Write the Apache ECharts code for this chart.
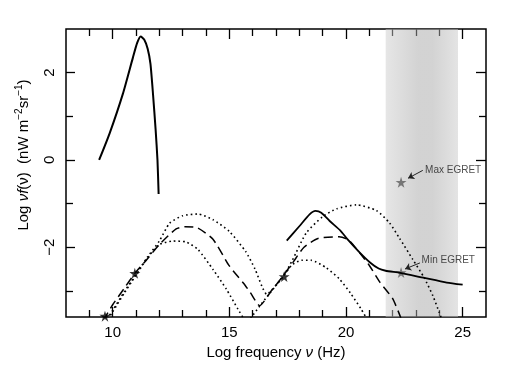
<!DOCTYPE html>
<html>
<head>
    <meta charset="utf-8">
    <title>SED</title>
    <script src="https://cdn.jsdelivr.net/npm/echarts@6/dist/echarts.min.js"></script>
    <style>
        html, body {margin:0;padding:0;background:#fff}
        #chart {width:508px;height:382px}
    </style>
</head>
<body>
<div id="chart"></div>
<script>
    // axis ticks
    var xMajor = [10, 15, 20, 25];
    var xMinor = [9, 11, 12, 13, 14, 16, 17, 18, 19, 21, 22, 23, 24];
    var yMajor = [-2, 0, 2];
    var yMinor = [-3, -1, 1];

    // curves, [log nu, log nu f(nu)]
    var cmbCurve = [[9.42,0.0],[9.87,0.61],[10.44,1.52],[10.87,2.35],[11.05,2.68],[11.2,2.83],[11.35,2.76],
        [11.5,2.55],[11.62,2.2],[11.73,1.5],[11.84,0.7],[11.92,0.0],[11.97,-0.78]];
    var upperDotted = [[9.75,-3.65],[10.0,-3.45],[10.5,-3.02],[11.0,-2.62],[11.5,-2.22],[12.0,-1.86],[12.44,-1.45],
        [13.0,-1.28],[13.65,-1.24],[14.3,-1.37],[15.0,-1.64],[15.7,-2.1],[16.1,-2.5],[16.4,-2.9],[16.6,-3.08],
        [17.0,-2.87],[17.35,-2.63],[17.7,-2.3],[18.3,-1.67],[19.0,-1.3],[19.6,-1.12],[20.45,-1.03],[21.3,-1.16],
        [21.86,-1.44],[22.3,-1.8],[22.86,-2.28],[23.35,-2.7],[23.72,-3.11],[24.0,-3.5],[24.1,-3.65]];
    var lowerDotted = [[9.8,-3.65],[10.0,-3.48],[10.5,-3.05],[11.0,-2.64],[11.5,-2.24],[12.0,-1.94],[12.58,-1.86],
        [13.15,-1.88],[13.65,-2.05],[14.3,-2.51],[14.87,-2.96],[15.37,-3.42],[15.6,-3.62],[15.77,-3.72],[15.95,-3.6],
        [16.3,-3.35],[16.65,-3.11],[17.0,-2.88],[17.35,-2.64],[17.7,-2.4],[18.1,-2.3],[18.5,-2.3],[19.15,-2.47],
        [19.72,-2.73],[20.2,-3.06],[20.65,-3.42],[20.9,-3.65]];
    var dashedModel = [[9.6,-3.68],[10.0,-3.32],[10.5,-2.94],[10.95,-2.6],[11.44,-2.3],[12.0,-1.94],[12.72,-1.58],
        [13.1,-1.53],[13.65,-1.56],[14.3,-1.82],[15.0,-2.43],[15.6,-2.82],[15.9,-3.04],[16.3,-3.34],[16.8,-3.0],
        [17.3,-2.66],[17.75,-2.33],[18.2,-2.0],[18.8,-1.8],[19.7,-1.76],[20.1,-1.83],[20.6,-2.14],[21.0,-2.42],
        [21.45,-2.8],[22.0,-3.18],[22.35,-3.62]];
    var highSolid = [[17.46,-1.85],[18.0,-1.52],[18.44,-1.25],[18.69,-1.17],[18.94,-1.21],[19.3,-1.4],[19.76,-1.62],
        [20.05,-1.81],[20.6,-2.13],[21.03,-2.35],[21.4,-2.49],[21.7,-2.54],[22.32,-2.59],[23.32,-2.7],[24.32,-2.81],[25.0,-2.86]];

    // measured points
    var dataStars = [[9.67,-3.58],[10.95,-2.6],[17.35,-2.67]];
    var egretStars = [[22.36,-0.51],[22.36,-2.58]];
    var egretNames = ['Max EGRET', 'Min EGRET'];
    var egretTextAt = [[23.39,-0.23],[23.24,-2.29]];
    var egretArrows = [[[23.29,-0.24],[22.66,-0.42]], [[23.17,-2.36],[22.53,-2.5]]];
    var egretBand = [21.7, 24.8];

    var fontFamily = 'Liberation Sans, Arial, sans-serif';
    var starPath = 'path://M50,0 L61,35 L98,35 L68,57 L79,91 L50,70 L21,91 L32,57 L2,35 L39,35 Z';

    function tickAxis(position, vals, len, isX, withLabel) {
        var ax = {
            type: 'value',
            position: position,
            axisLine: {show: false, onZero: false},
            splitLine: {show: false},
            axisTick: {show: true, inside: true, length: len, customValues: vals, lineStyle: {color: '#000', width: 1.3}},
            axisLabel: {show: false}
        };
        if (isX) { ax.min = 8; ax.max = 26; } else { ax.min = -3.6; ax.max = 3; }
        if (withLabel) {
            ax.axisLabel = {
                show: true, customValues: vals, color: '#000', fontSize: 15, fontFamily: fontFamily,
                margin: isX ? 8 : 9, rotate: isX ? 0 : 90,
                formatter: function (v) { return v < 0 ? '\u2212' + Math.abs(v) : String(v); }
            };
        }
        return ax;
    }

    // tick lengths include the part hidden under the frame
    var xAxes = [
        tickAxis('bottom', xMajor, 10, true, true),
        tickAxis('bottom', xMinor, 7, true, false),
        tickAxis('top', xMajor, 10, true, false),
        tickAxis('top', xMinor, 7, true, false)
    ];
    xAxes[0].name = 'Log frequency {i|\u03bd} (Hz)';
    xAxes[0].nameLocation = 'middle';
    xAxes[0].nameGap = 27;
    xAxes[0].nameTextStyle = {color: '#000', fontSize: 15, fontFamily: fontFamily, rich: {i: {fontStyle: 'italic', fontSize: 15, fontFamily: fontFamily}}};

    var yAxes = [
        tickAxis('left', yMajor, 9, false, true),
        tickAxis('left', yMinor, 7, false, false),
        tickAxis('right', yMajor, 10, false, false),
        tickAxis('right', yMinor, 7, false, false)
    ];

    function curve(data, type, width) {
        return {
            type: 'line', data: data, showSymbol: false, smooth: 0.2, silent: true, animation: false,
            lineStyle: {color: '#000', width: width, type: type}
        };
    }

    var chart = echarts.init(document.getElementById('chart'));
    var option = {
        animation: false,
        grid: {left: 66, right: 22, top: 29, bottom: 65, show: true, borderColor: '#000', borderWidth: 1.5, backgroundColor: 'transparent'},
        xAxis: xAxes,
        yAxis: yAxes,
        graphic: [{
            type: 'text', x: 24, y: 155, rotation: Math.PI / 2,
            style: {
                text: 'Log {i|\u03bdf}(\u03bd)  (nW m{s|\u22122}sr{s|\u22121})',
                align: 'center', verticalAlign: 'middle', fill: '#000', fontSize: 15, fontFamily: fontFamily,
                rich: {
                    i: {fontStyle: 'italic', fontSize: 15, fontFamily: fontFamily, lineHeight: 20},
                    s: {fontSize: 10, fontFamily: fontFamily, verticalAlign: 'top', lineHeight: 20}
                }
            }
        }],
        series: [
            curve(cmbCurve, 'solid', 2),
            curve(upperDotted, [1.6, 3], 1.6),
            curve(lowerDotted, [1.6, 3], 1.6),
            curve(dashedModel, [9, 5], 1.5),
            curve(highSolid, 'solid', 1.8),
            {
                type: 'scatter', data: dataStars.concat(egretStars), symbol: starPath, symbolSize: 11,
                itemStyle: {color: '#000'}, silent: true
            },
            {
                // EGRET band, laid over the curves
                type: 'custom', z: 3, silent: true,
                data: [egretBand],
                renderItem: function (params, api) {
                    var p0 = api.coord([api.value(0), 3]);
                    var p1 = api.coord([api.value(1), -3.6]);
                    return {
                        type: 'rect',
                        shape: {x: p0[0], y: p0[1], width: p1[0] - p0[0], height: p1[1] - p0[1]},
                        style: {
                            fill: new echarts.graphic.LinearGradient(0, 0, 1, 0, [
                                {offset: 0, color: 'rgba(205,205,205,0.5)'},
                                {offset: 0.45, color: 'rgba(167,167,167,0.5)'},
                                {offset: 0.65, color: 'rgba(167,167,167,0.5)'},
                                {offset: 1, color: 'rgba(201,201,201,0.5)'}
                            ])
                        }
                    };
                }
            },
            {
                type: 'scatter', z: 4, silent: true, symbolSize: 0,
                data: egretTextAt,
                label: {
                    show: true, position: 'right', distance: 0, color: '#222', fontSize: 10, fontFamily: fontFamily,
                    formatter: function (p) { return egretNames[p.dataIndex]; }
                },
                markLine: {
                    silent: true, symbol: ['none', 'arrow'], symbolSize: 6, animation: false,
                    lineStyle: {color: '#222', width: 1, type: 'solid'},
                    label: {show: false},
                    data: egretArrows.map(function (a) { return [{coord: a[0]}, {coord: a[1]}]; })
                }
            }
        ]
    };
    chart.setOption(option);

    window.onresize = function () {
        chart.resize();
    };
</script>
</body>
</html>
